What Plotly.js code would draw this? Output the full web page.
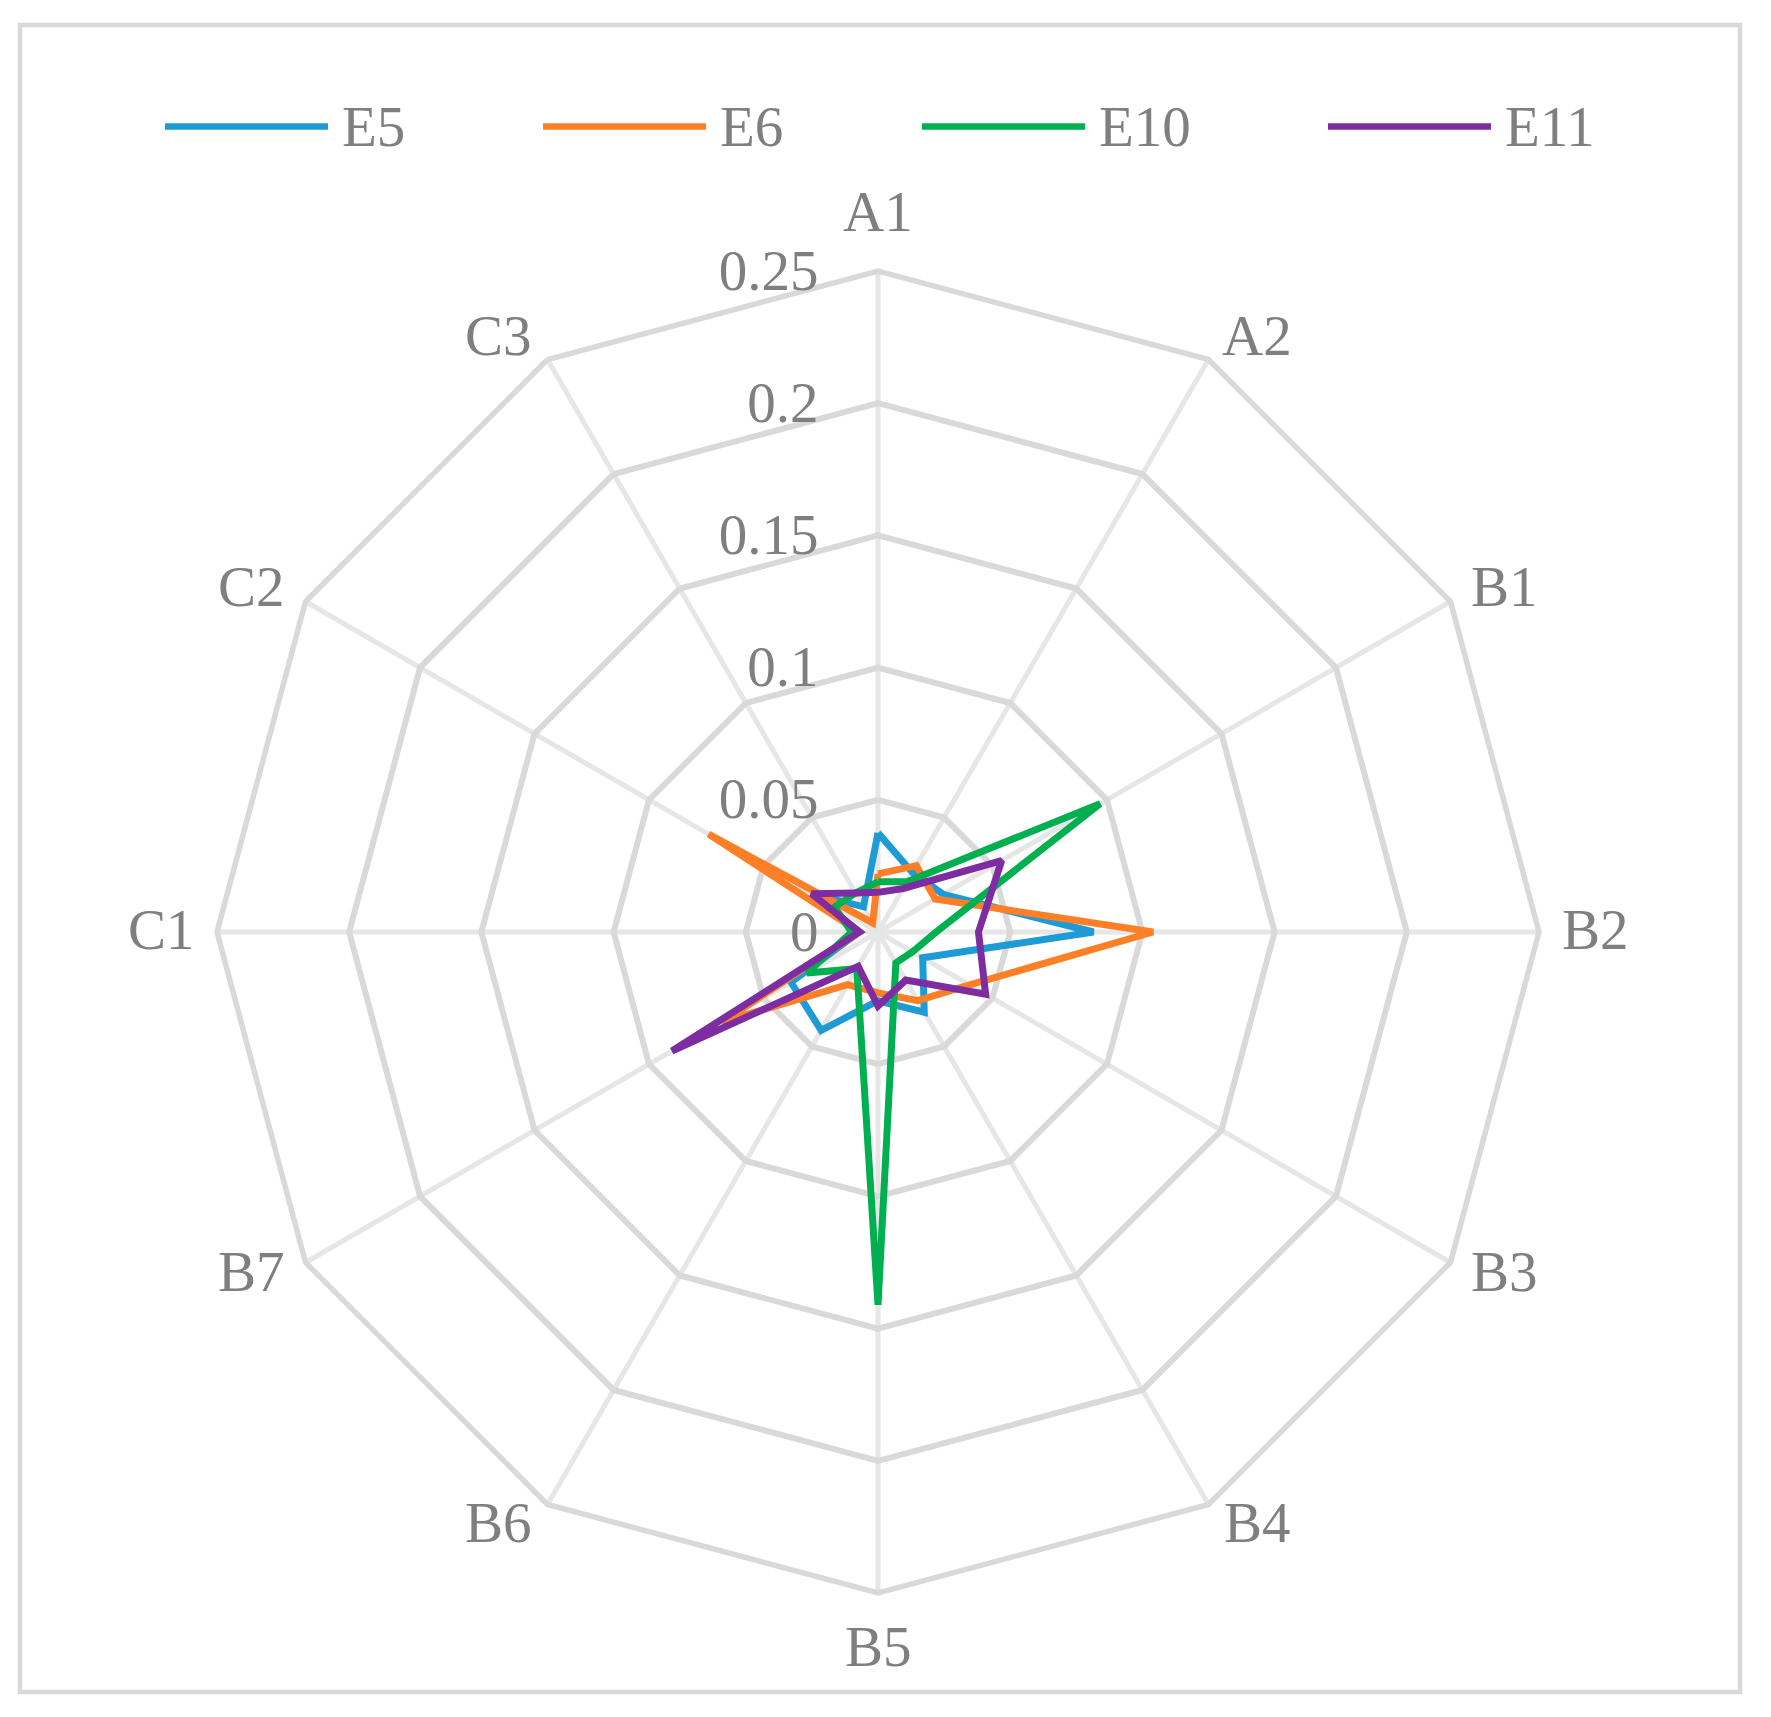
<!DOCTYPE html>
<html>
<head>
<meta charset="utf-8">
<script src="https://cdn.plot.ly/plotly-3.0.1.min.js"></script>
<style>
  html, body { margin: 0; padding: 0; background: #fff; }
  #plot { width: 1771px; height: 1717px; }
</style>
</head>
<body>
<div id="plot"></div>
<script>
// categories round the radar, clockwise from the top
const categories = ["A1", "A2", "B1", "B2", "B3", "B4", "B5", "B6", "B7", "C1", "C2", "C3"];

// values
const e5 = [0.0375, 0.026, 0.0285, 0.0815, 0.0195, 0.035, 0.026, 0.043, 0.038, 0.007, 0.029, 0.011];
const e6 = [0.022, 0.029, 0.025, 0.104, 0.040, 0.030, 0.023, 0.023, 0.068, 0.007, 0.074, 0.004];
const e10 = [0.019, 0.022, 0.097, 0.022, 0.015, 0.0135, 0.141, 0.016, 0.031, 0.010, 0.019, 0.017];
const e11 = [0.015, 0.019, 0.054, 0.038, 0.047, 0.021, 0.028, 0.015, 0.090, 0.007, 0.029, 0.017];

const seriesNames = ["E5", "E6", "E10", "E11"];
const seriesValues = [e5, e6, e10, e11];
const seriesColors = ["#1e9bd7", "#ff7f27", "#00b050", "#7e2ca1"];

const radialTicks = [0, 0.05, 0.1, 0.15, 0.2, 0.25];
const radialTickText = ["0", "0.05", "0.1", "0.15", "0.2", "0.25"];

const W = 1771, H = 1717;
const textColor = "#7f7f7f";
const fontFamily = "Liberation Serif, Times New Roman, serif";
const fontSize = 57;

// close each polygon by repeating the first point
const data = seriesValues.map((vals, i) => ({
  type: "scatterpolar",
  r: [...vals, vals[0]],
  theta: [...categories, categories[0]],
  mode: "lines",
  name: seriesNames[i],
  line: { color: seriesColors[i], width: 7 },
  showlegend: false,
  hoverinfo: "skip"
}));

// polar centre and radius in pixels
const cx = 878, cy = 932, R = 661;

const shapes = [
  {
    type: "rect", xref: "paper", yref: "paper",
    x0: 20 / W, x1: 1740 / W, y0: 1 - 1692 / H, y1: 1 - 25 / H,
    line: { color: "#d9d9d9", width: 4.5 }
  }
];
const annotations = [];

// category labels just outside the outer ring (clockwise from top);
// the diagonal ones lean a little towards the horizontal, like Excel does
categories.forEach((cat, i) => {
  const deg = (i * 360) / categories.length;
  const m = deg % 180;
  const fromVertical = Math.min(m, 180 - m);
  let dist = 717, shift = 0;
  if (fromVertical === 30) { dist = 704; shift = 2.6; }
  if (fromVertical === 60) { dist = 714; shift = 1.3; }
  const toHoriz = Math.sin((deg * Math.PI) / 90) >= 0 ? 1 : -1;
  const a = ((deg + toHoriz * shift) * Math.PI) / 180;
  annotations.push({
    xref: "paper", yref: "paper",
    x: (cx + dist * Math.sin(a)) / W,
    y: 1 - (cy - dist * Math.cos(a)) / H,
    xanchor: "center", yanchor: "middle", yshift: 3,
    text: cat, showarrow: false,
    font: { family: fontFamily, size: fontSize, color: textColor }
  });
});

// legend drawn as shapes + text, one row along the top
const legendY = 1 - 126.5 / H;
const legendX = [165, 543, 922, 1328];
const legendLen = 163;
seriesNames.forEach((name, i) => {
  shapes.push({
    type: "line", xref: "paper", yref: "paper",
    x0: legendX[i] / W, x1: (legendX[i] + legendLen) / W, y0: legendY, y1: legendY,
    line: { color: seriesColors[i], width: 6.5 }
  });
  annotations.push({
    xref: "paper", yref: "paper",
    x: (legendX[i] + legendLen + 12) / W, y: legendY,
    xanchor: "left", yanchor: "middle",
    text: name, showarrow: false,
    font: { family: fontFamily, size: fontSize, color: textColor }
  });
});

const layout = {
  width: W,
  height: H,
  margin: { l: 0, r: 0, t: 0, b: 0 },
  paper_bgcolor: "#ffffff",
  showlegend: false,
  font: { family: fontFamily, size: fontSize, color: textColor },
  polar: {
    domain: {
      x: [(cx - R) / W, (cx + R) / W],
      y: [(H - cy - R) / H, (H - cy + R) / H]
    },
    bgcolor: "rgba(0,0,0,0)",
    gridshape: "linear",
    radialaxis: {
      range: [0, 0.25],
      angle: 90,
      side: "counterclockwise",
      tickvals: radialTicks,
      ticktext: radialTickText,
      tickangle: 90,
      ticks: "outside",
      ticklen: 39,
      tickcolor: "rgba(0,0,0,0)",
      showline: false,
      gridcolor: "#d9d9d9",
      gridwidth: 5.5,
      tickfont: { family: fontFamily, size: fontSize, color: textColor }
    },
    angularaxis: {
      type: "category",
      categoryarray: categories,
      rotation: 90,
      direction: "clockwise",
      showline: true,
      linecolor: "#d9d9d9",
      linewidth: 5.5,
      gridcolor: "#e6e6e6",
      gridwidth: 5,
      ticks: "",
      showticklabels: false
    }
  },
  shapes: shapes,
  annotations: annotations
};

Plotly.newPlot("plot", data, layout, { displayModeBar: false });
</script>
</body>
</html>
